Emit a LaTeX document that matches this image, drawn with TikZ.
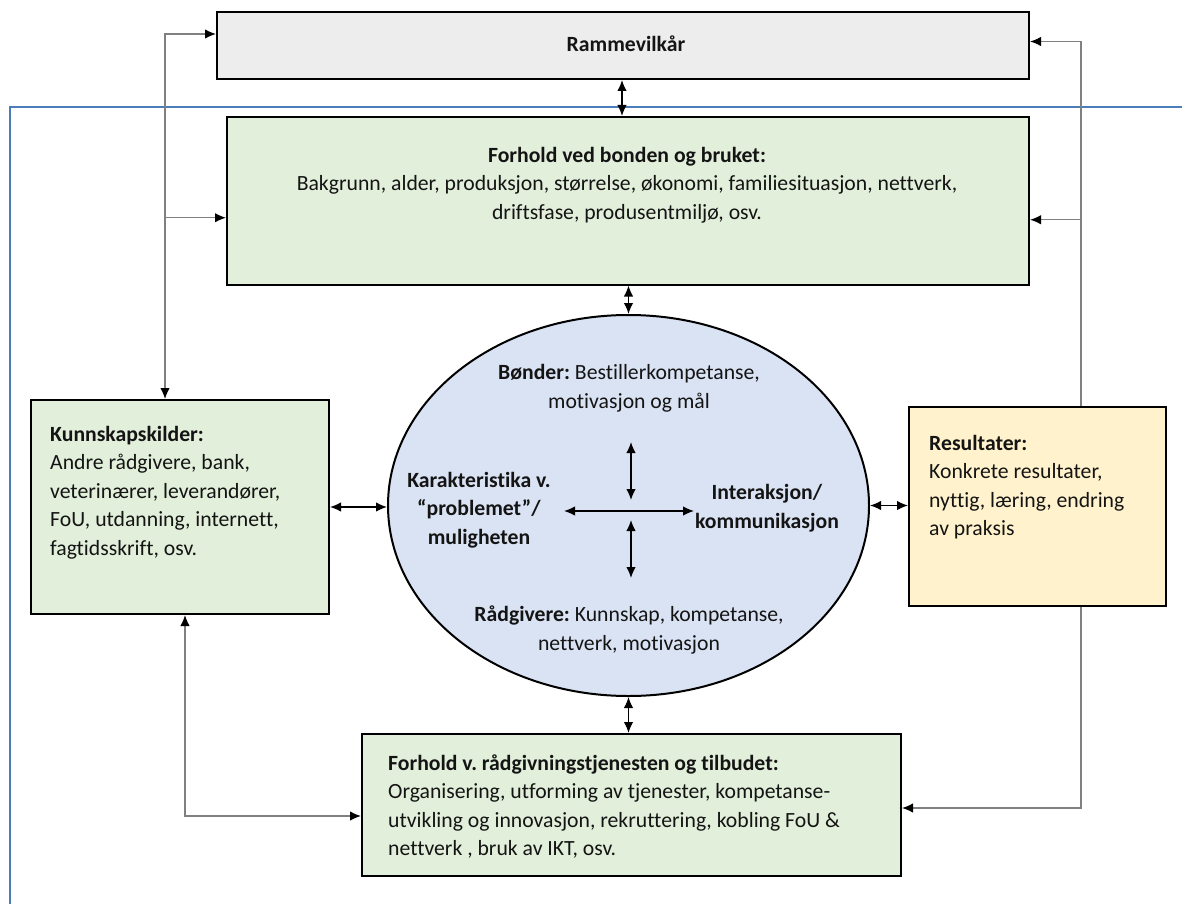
\documentclass[tikz,border=0pt]{standalone}
\usepackage{fontspec}
\setmainfont{Carlito}[Ligatures=NoCommon]
\usetikzlibrary{arrows.meta,calc,shapes.geometric}
\definecolor{graybox}{HTML}{EDEDED}
\definecolor{greenbox}{HTML}{E2EFDA}
\definecolor{bluefill}{HTML}{DAE3F3}
\definecolor{yellowbox}{HTML}{FFF2CC}
\definecolor{frameblue}{HTML}{4A7EBB}
\definecolor{fbgray}{HTML}{808080}
\frenchspacing
\begin{document}
\begin{tikzpicture}[x=1pt,y=-1pt,
  box/.style={draw=black, line width=2pt, rectangle, inner sep=0pt},
  txt/.style={font=\fontsize{21.7}{28.5}\selectfont\frenchspacing, inner sep=0pt, text=black!92},
  tp/.tip={Latex[length=11pt,width=9.5pt,color=black]},
  dbl/.style={draw=black, line width=1.3pt, tp-tp},
  one/.style={draw=black, line width=1.3pt, -tp},
  fb/.style={draw=fbgray, line width=1.3pt},
  fbone/.style={fb, -tp},
  fbdbl/.style={fb, tp-tp}
]
\useasboundingbox (0,0) rectangle (1182,904);
% frame
\draw[frameblue, line width=1.5pt] (10,904) -- (10,107) -- (1182,107);

% boxes
\node[box, fill=graybox, minimum width=812pt, minimum height=67pt] (ram) at (623,45.5) {};
\node[box, fill=greenbox, minimum width=802pt, minimum height=167.5pt] (top) at (628,200.75) {};
\node[box, fill=greenbox, minimum width=298pt, minimum height=214pt] (ks) at (180,507) {};
\node[box, fill=yellowbox, minimum width=257pt, minimum height=199pt] (res) at (1037.5,506.5) {};
\node[box, fill=greenbox, minimum width=539pt, minimum height=142pt] (bot) at (631.5,805) {};
\node[ellipse, draw=black, line width=2pt, fill=bluefill, minimum width=481pt, minimum height=381pt, inner sep=0pt] (ell) at (628.5,505.5) {};

% texts (base anchor = baseline of last line)
\node[txt, anchor=base] (tram) at (626,52) {\textbf{Rammevilkår}};
\node[txt, anchor=base, align=center] (ttop) at (627,219) {\textbf{Forhold ved bonden og bruket:}\\Bakgrunn, alder, produksjon, størrelse, økonomi, familiesituasjon, nettverk,\\driftsfase, produsentmiljø, osv.};
\node[txt, anchor=base west, align=left] (tks) at (50,555) {\textbf{Kunnskapskilder:}\\Andre rådgivere, bank,\\veterinærer, leverandører,\\FoU, utdanning, internett,\\fagtidsskrift, osv.};
\node[txt, anchor=base west, align=left] (tres) at (929,535.5) {\textbf{Resultater:}\\Konkrete resultater,\\nyttig, læring, endring\\av praksis};
\node[txt, anchor=base west, align=left] (tbot) at (388,855.5) {\textbf{Forhold v. rådgivningstjenesten og tilbudet:}\\Organisering, utforming av tjenester, kompetanse-\\utvikling og innovasjon, rekruttering, kobling FoU \&\\nettverk , bruk av IKT, osv.};
\node[txt, anchor=base, align=center] (tbon) at (629,408) {\textbf{Bønder:} Bestillerkompetanse,\\motivasjon og mål};
\node[txt, anchor=base, align=center] (trad) at (629,650) {\textbf{Rådgivere:} Kunnskap, kompetanse,\\nettverk, motivasjon};
\node[txt, anchor=base, align=center] (tkar) at (479,544) {\textbf{Karakteristika v.}\\\textbf{“problemet”/}\\\textbf{muligheten}};
\node[txt, anchor=base, align=center] (tint) at (767,528) {\textbf{Interaksjon/}\\\textbf{kommunikasjon}};

% helper coordinates
\coordinate (a1) at (622,0);
\coordinate (lx) at (165,0);
\coordinate (lx2) at (185,0);
\coordinate (rx) at (1081,0);
\coordinate (ramL) at ($(ram.west)+(0,-11.5)$);
\coordinate (ramR) at ($(ram.east)+(0,-4)$);
\coordinate (topL) at ($(top.west)+(0,17)$);
\coordinate (topR) at ($(top.east)+(0,19)$);
\coordinate (botR) at ($(bot.east)+(0,3)$);
\coordinate (botL) at ($(bot.west)+(0,11)$);
\coordinate (v1a) at (631,442);
\coordinate (v1b) at (631,500);
\coordinate (v2a) at (631,520);
\coordinate (v2b) at (631,578);
\coordinate (h1) at (564,511);
\coordinate (h2) at (694,511);

% connectors
\draw[dbl] (ram.south -| a1) -- (top.north -| a1);
\draw[dbl] (top.south -| ell.north) -- (ell.north);
\draw[dbl] (ell.south) -- (bot.north -| ell.south);
\draw[dbl] (ks.east) -- (ell.west |- ks.east);
\draw[dbl] (ell.east) -- (res.west |- ell.east);

\draw[fbdbl] (ks.north -| lx) |- (ramL);
\draw[fbone] (topL -| lx) -- (topL);
\draw[fbone] (res.north -| rx) |- (ramR);
\draw[fbone] (topR -| rx) -- (topR);
\draw[fbone] (res.south -| rx) |- (botR);
\draw[fbdbl] (ks.south -| lx2) |- (botL);

\draw[dbl] (v1a) -- (v1b);
\draw[dbl] (v2a) -- (v2b);
\draw[dbl] (h1) -- (h2);
\end{tikzpicture}
\end{document}
